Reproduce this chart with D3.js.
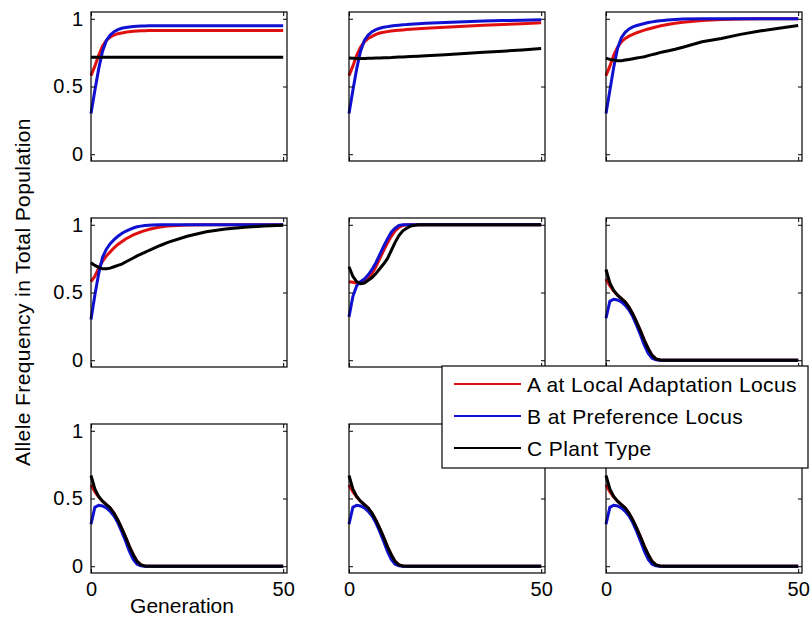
<!DOCTYPE html>
<html>
<head>
<meta charset="utf-8">
<script src="https://cdn.jsdelivr.net/npm/d3@7"></script>
<style>
  body { margin: 0; background: #fff; }
  text { font-family: "Liberation Sans", Arial, sans-serif; }
</style>
</head>
<body>
<div id="chart"></div>
<script>
var generations = [0, 1, 2, 3, 4, 5, 6, 7, 8, 9, 10, 11, 12, 13, 14, 15, 16, 18, 20, 25, 30, 35, 40, 45, 50];
var xTicks = [0, 50];
var yTicks = [0, 0.5, 1];
var seriesNames = ["A at Local Adaptation Locus", "B at Preference Locus", "C Plant Type"];
var seriesColors = ["#e01010", "#1010d0", "#000000"];

// row 1
var p1A = [0.58, 0.65, 0.73, 0.80, 0.84, 0.865, 0.88, 0.89, 0.895, 0.90, 0.905, 0.908, 0.91, 0.911, 0.912, 0.913, 0.913, 0.913, 0.913, 0.913, 0.913, 0.913, 0.913, 0.913, 0.913];
var p1B = [0.30, 0.47, 0.63, 0.76, 0.84, 0.88, 0.905, 0.92, 0.93, 0.935, 0.94, 0.943, 0.945, 0.946, 0.947, 0.948, 0.948, 0.948, 0.948, 0.948, 0.948, 0.948, 0.948, 0.948, 0.948];
var p1C = [0.716, 0.716, 0.716, 0.716, 0.716, 0.716, 0.716, 0.716, 0.716, 0.716, 0.716, 0.716, 0.716, 0.716, 0.716, 0.716, 0.716, 0.716, 0.716, 0.716, 0.716, 0.716, 0.716, 0.716, 0.716];

var p2A = [0.58, 0.65, 0.73, 0.79, 0.83, 0.855, 0.87, 0.885, 0.895, 0.90, 0.905, 0.91, 0.913, 0.916, 0.918, 0.92, 0.922, 0.926, 0.93, 0.938, 0.945, 0.952, 0.958, 0.964, 0.97];
var p2B = [0.30, 0.47, 0.63, 0.76, 0.84, 0.88, 0.905, 0.92, 0.93, 0.937, 0.942, 0.946, 0.95, 0.953, 0.955, 0.957, 0.96, 0.963, 0.967, 0.973, 0.978, 0.983, 0.987, 0.99, 0.993];
var p2C = [0.71, 0.708, 0.706, 0.706, 0.707, 0.708, 0.709, 0.71, 0.711, 0.712, 0.713, 0.714, 0.716, 0.717, 0.718, 0.72, 0.721, 0.724, 0.727, 0.735, 0.743, 0.752, 0.761, 0.77, 0.78];

var p3A = [0.58, 0.65, 0.73, 0.79, 0.83, 0.855, 0.872, 0.885, 0.897, 0.907, 0.916, 0.924, 0.932, 0.939, 0.946, 0.952, 0.958, 0.967, 0.975, 0.988, 0.995, 0.998, 1, 1, 1];
var p3B = [0.30, 0.47, 0.64, 0.78, 0.86, 0.90, 0.925, 0.94, 0.95, 0.958, 0.965, 0.972, 0.977, 0.981, 0.985, 0.988, 0.991, 0.995, 0.998, 1, 1, 1, 1, 1, 1];
var p3C = [0.71, 0.70, 0.695, 0.69, 0.69, 0.695, 0.70, 0.705, 0.71, 0.715, 0.72, 0.728, 0.735, 0.742, 0.75, 0.756, 0.762, 0.775, 0.79, 0.83, 0.855, 0.885, 0.91, 0.93, 0.95];

// row 2
var p4A = [0.58, 0.62, 0.68, 0.73, 0.77, 0.80, 0.83, 0.855, 0.875, 0.895, 0.91, 0.925, 0.937, 0.948, 0.957, 0.965, 0.972, 0.983, 0.99, 0.998, 1, 1, 1, 1, 1];
var p4B = [0.30, 0.48, 0.64, 0.76, 0.82, 0.86, 0.89, 0.915, 0.935, 0.952, 0.965, 0.976, 0.985, 0.99, 0.994, 0.997, 0.999, 1, 1, 1, 1, 1, 1, 1, 1];
var p4C = [0.72, 0.70, 0.685, 0.675, 0.675, 0.68, 0.69, 0.70, 0.71, 0.725, 0.74, 0.755, 0.77, 0.783, 0.796, 0.81, 0.822, 0.847, 0.87, 0.915, 0.948, 0.968, 0.982, 0.991, 0.996];

var p5A = [0.58, 0.575, 0.57, 0.57, 0.58, 0.60, 0.64, 0.69, 0.75, 0.81, 0.865, 0.915, 0.955, 0.98, 0.995, 1, 1, 1, 1, 1, 1, 1, 1, 1, 1];
var p5B = [0.32, 0.47, 0.55, 0.58, 0.60, 0.63, 0.67, 0.72, 0.78, 0.84, 0.895, 0.945, 0.975, 0.995, 1, 1, 1, 1, 1, 1, 1, 1, 1, 1, 1];
var p5C = [0.69, 0.62, 0.58, 0.565, 0.57, 0.59, 0.61, 0.64, 0.675, 0.71, 0.75, 0.81, 0.87, 0.92, 0.955, 0.975, 0.99, 1, 1, 1, 1, 1, 1, 1, 1];

// panels 6 to 9 show the same decline
var declineA = [0.60, 0.55, 0.51, 0.48, 0.455, 0.43, 0.39, 0.34, 0.28, 0.215, 0.145, 0.085, 0.035, 0.01, 0.002, 0, 0, 0, 0, 0, 0, 0, 0, 0, 0];
var declineB = [0.31, 0.435, 0.45, 0.445, 0.43, 0.405, 0.37, 0.32, 0.255, 0.185, 0.11, 0.05, 0.015, 0.003, 0, 0, 0, 0, 0, 0, 0, 0, 0, 0, 0];
var declineC = [0.67, 0.57, 0.515, 0.48, 0.455, 0.43, 0.39, 0.34, 0.28, 0.215, 0.145, 0.085, 0.035, 0.01, 0.002, 0, 0, 0, 0, 0, 0, 0, 0, 0, 0];

var panels = [
  [p1A, p1B, p1C], [p2A, p2B, p2C], [p3A, p3B, p3C],
  [p4A, p4B, p4C], [p5A, p5B, p5C], [declineA, declineB, declineC],
  [declineA, declineB, declineC], [declineA, declineB, declineC], [declineA, declineB, declineC]
];

var colLeft = [91, 349, 606],
    rowTop = [12, 218, 424],
    panelW = 196, panelH = 149;

var svg = d3.select("#chart")
  .append("svg")
    .attr("width", 812)
    .attr("height", 617);

var x = d3.scaleLinear().domain([0, 51]).range([0, panelW]);
var y = d3.scaleLinear().domain([-0.05, 1.05]).range([panelH, 0]);

var line = d3.line()
  .x(function(d, i) { return x(generations[i]); })
  .y(function(d) { return y(d); });

panels.forEach(function(series, i) {
  var r = Math.floor(i / 3), c = i % 3;
  var g = svg.append("g")
    .attr("transform", "translate(" + colLeft[c] + "," + rowTop[r] + ")");

  g.append("rect")
    .attr("width", panelW)
    .attr("height", panelH)
    .attr("fill", "#fff");

  series.forEach(function(vals, k) {
    g.append("path")
      .datum(vals)
      .attr("fill", "none")
      .attr("stroke", seriesColors[k])
      .attr("stroke-width", 3)
      .attr("d", line);
  });

  // ticks point inward on all four sides, like the original
  var bottom = g.append("g")
    .attr("transform", "translate(0," + panelH + ")")
    .call(d3.axisBottom(x).tickValues(xTicks).tickSize(-4).tickPadding(9)
      .tickFormat(r == 2 ? function(d) { return d; } : ""));
  var top = g.append("g")
    .call(d3.axisTop(x).tickValues(xTicks).tickSize(-4).tickFormat(""));
  var left = g.append("g")
    .call(d3.axisLeft(y).tickValues(yTicks).tickSize(-4).tickPadding(7)
      .tickFormat(c == 0 ? function(d) { return d; } : ""));
  var right = g.append("g")
    .attr("transform", "translate(" + panelW + ",0)")
    .call(d3.axisRight(y).tickValues(yTicks).tickSize(-4).tickFormat(""));

  [bottom, top, left, right].forEach(function(a) {
    a.attr("font-size", 20).attr("font-family", "Liberation Sans, Arial, sans-serif");
    a.select(".domain").remove();
    a.selectAll("text").attr("fill", "#000");
  });
  left.selectAll("text").style("letter-spacing", "1px");

  g.append("rect")
    .attr("width", panelW)
    .attr("height", panelH)
    .attr("fill", "none")
    .attr("stroke", "#000")
    .attr("stroke-width", 1.2);
});

// axis labels
svg.append("text")
  .attr("x", 182)
  .attr("y", 613)
  .attr("font-size", 21)
  .attr("text-anchor", "middle")
  .text("Generation");

svg.append("text")
  .attr("transform", "translate(30,292) rotate(-90)")
  .attr("font-size", 21)
  .style("letter-spacing", "0.4px")
  .attr("text-anchor", "middle")
  .text("Allele Frequency in Total Population");

// legend
var legend = svg.append("g")
  .attr("transform", "translate(442,366)");

legend.append("rect")
  .attr("width", 366)
  .attr("height", 102)
  .attr("fill", "#fff")
  .attr("stroke", "#000")
  .attr("stroke-width", 1.2);

seriesNames.forEach(function(name, k) {
  var row = legend.append("g")
    .attr("transform", "translate(0," + (18 + k * 32) + ")");
  row.append("line")
    .attr("x1", 12)
    .attr("x2", 79)
    .attr("stroke", seriesColors[k])
    .attr("stroke-width", 2);
  row.append("text")
    .attr("x", 85)
    .attr("y", 8)
    .attr("font-size", 21)
    .style("letter-spacing", "0.4px")
    .text(name);
});
</script>
</body>
</html>
